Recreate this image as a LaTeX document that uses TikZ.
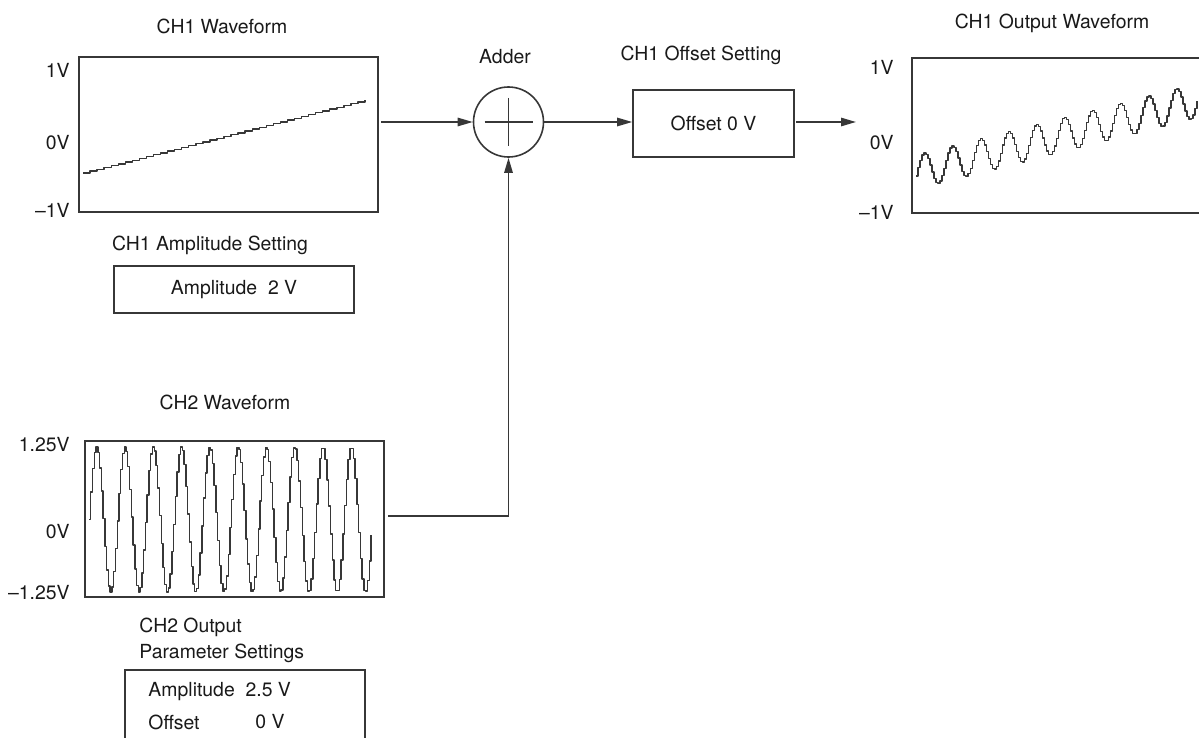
\documentclass[tikz,border=0pt]{standalone}
\usepackage{fontspec}
\setmainfont{TeX Gyre Heros}
\usepackage{xcolor}
\usepackage{tikz}
\usetikzlibrary{arrows.meta}
\definecolor{cLinie}{RGB}{55,55,55}
\definecolor{cText}{RGB}{25,25,25}

\begin{document}
\begin{tikzpicture}[x=0.5pt,y=-0.5pt,font=\fontsize{9.7}{11}\selectfont,text=cText,
  line width=0.8pt,draw=cLinie,
  sigbox/.style={draw=cLinie,rectangle,inner sep=0pt},
  wave/.style={cLinie,line width=0.7pt,line join=round},
  conn/.style={cLinie,-{Triangle[length=7.5pt,width=4.2pt]}}]
\useasboundingbox (0,0) rectangle (1199,738);
% CH1 waveform
\node at (222,26){CH1 Waveform};
\node[sigbox,minimum width=149.5pt,minimum height=77.5pt] (ch1) at (228.5,134.5){};
\node[left] at (77,70){1V}; \node[left] at (77,143){0V}; \node[left] at (77,210){--1V};
\draw[wave,domain=83:365,samples=41] plot[const plot] (\x,{173-0.2589*(\x-83)});
\node at (210,245){CH1 Amplitude Setting};
\node[sigbox,minimum width=120pt,minimum height=23.5pt] (amp1) at (234,289.5){Amplitude\ \ 2 V};
% adder and offset
\node at (505,57){Adder};
\node[draw=cLinie,circle,minimum size=35pt,inner sep=0pt] (adder) at (508.5,122){};
\draw (484.5,122)--(532.5,122) (508.5,98)--(508.5,146);
\node at (701,55){CH1 Offset Setting};
\node[sigbox,minimum width=80.5pt,minimum height=33.5pt] (offs) at (713.5,123.5){Offset 0 V};
% CH1 output
\node at (1052,23){CH1 Output Waveform};
\draw (1199,58)--(912,58)--(912,213)--(1199,213);
\node[left] at (901,67){1V}; \node[left] at (901,143){0V}; \node[left] at (901,212){--1V};
\draw[wave,domain=916:1197,samples=141] plot[const plot] (\x,{170-0.254*(\x-924)-17*cos(12.857*(\x-924))});
% CH2 waveform
\node at (225,402){CH2 Waveform};
\node[sigbox,minimum width=149.5pt,minimum height=78pt] (ch2) at (234.5,519){};
\node[left] at (77,445){1.25V}; \node[left] at (77,532){0V}; \node[left] at (77,593){--1.25V};
\draw[wave,domain=89:371,samples=161] plot[const plot] (\x,{519.5-72.5*sin(12.721*(\x-89))});
\node[right] at (132,627){CH2 Output};
\node[right] at (132,653){Parameter Settings};
\draw (125,740)--(125,670)--(365,670)--(365,740);
\node[right] (amp2) at (141,692){Amplitude\ \ 2.5 V};
\node[right] (off2) at (141,722){Offset};
\node[left] at (292,722){0 V};
% connectors
\coordinate (ch1out) at (381,122);
\coordinate (ch2out) at (388,516);
\coordinate (outin) at (856,122);
\draw[conn] (ch1out) -- (adder.west);
\draw[conn] (adder.east) -- (adder.east -| offs.west);
\draw[conn] (offs.east |- outin) ++(1.5,0) -- (outin);
\draw[conn] (ch2out) -| (adder.south);
\end{tikzpicture}
\end{document}
